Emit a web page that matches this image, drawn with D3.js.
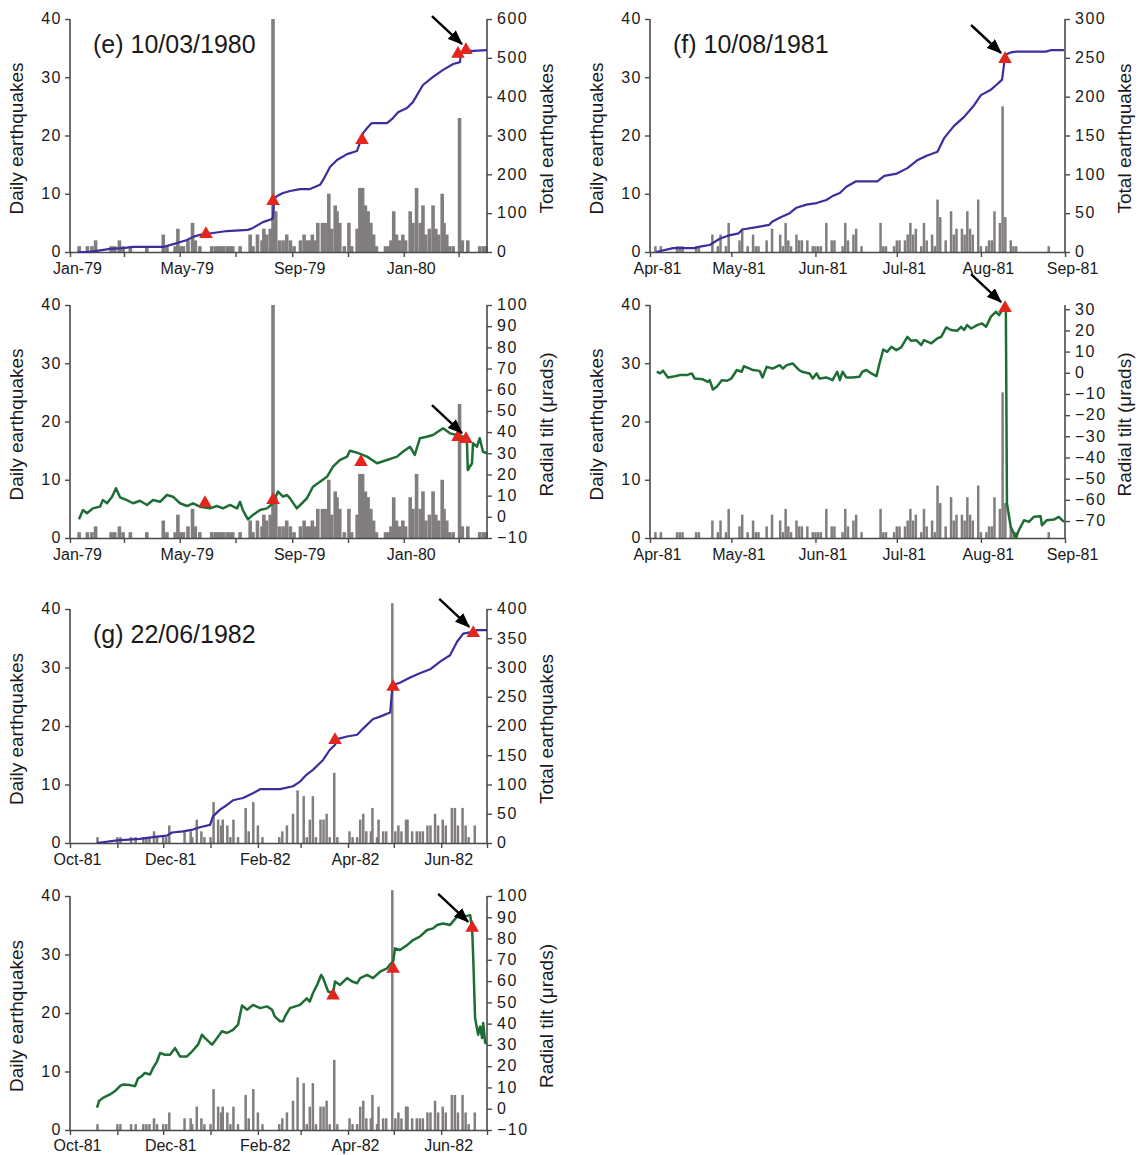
<!DOCTYPE html>
<html>
<head>
<meta charset="utf-8">
<script src="https://cdn.jsdelivr.net/npm/d3@7"></script>
<style>
    body { margin: 0; background: #ffffff; }
    svg { font-family: "Liberation Sans", Arial, Helvetica, sans-serif; }
</style>
</head>
<body>
<svg id="chart" width="1144" height="1155"></svg>
<script>
// ---- data (x = days after the panel start date) ----
const eStart = "1979-01-01", eEnd = "1980-04-01";
const fStart = "1981-04-01", fEnd = "1981-09-01";
const gStart = "1981-10-01", gEnd = "1982-07-01";

const dailyTicks = [0, 10, 20, 30, 40];
const eTotalTicks = [0, 100, 200, 300, 400, 500, 600];
const fTotalTicks = [0, 50, 100, 150, 200, 250, 300];
const gTotalTicks = [0, 50, 100, 150, 200, 250, 300, 350, 400];
const eTiltTicks = [-10, 0, 10, 20, 30, 40, 50, 60, 70, 80, 90, 100];
const fTiltTicks = [-70, -60, -50, -40, -30, -20, -10, 0, 10, 20, 30];
const gTiltTicks = [-10, 0, 10, 20, 30, 40, 50, 60, 70, 80, 90, 100];

// daily earthquake counts [day, count]
const eDaily = [[10,1],[19,1],[24,1],[28,2],[45,1],[49,1],[54,2],[58,1],[66,1],[84,1],[102,3],[106,1],[115,1],[118,4],[121,1],[124,1],[129,2],[134,5],[137,2],[142,1],[155,1],[159,1],[162,1],[165,1],[168,1],[172,1],[175,1],[178,1],[186,1],[197,3],[200,1],[205,3],[210,2],[212,4],[215,3],[219,4],[222,40],[225,7],[229,2],[233,2],[237,3],[241,2],[245,1],[252,2],[256,3],[259,2],[262,2],[265,3],[268,2],[271,5],[276,5],[279,5],[283,10],[286,4],[290,8],[292,7],[295,5],[300,1],[305,5],[308,1],[314,4],[317,11],[320,11],[323,8],[326,7],[329,5],[332,3],[335,1],[345,1],[348,1],[351,2],[354,7],[357,3],[360,2],[364,3],[367,2],[372,7],[375,5],[379,11],[383,5],[386,8],[389,3],[393,4],[397,8],[400,4],[403,3],[407,10],[409,5],[412,3],[415,1],[419,1],[426,23],[429,2],[435,2],[448,1],[452,1],[455,1]];
const fDaily = [[2,1],[4,1],[10,1],[11,1],[12,1],[17,1],[18,1],[23,3],[25,1],[26,3],[28,1],[29,5],[33,2],[34,4],[36,1],[38,3],[39,1],[40,1],[43,2],[45,4],[48,3],[49,1],[50,5],[51,2],[52,1],[54,3],[55,2],[56,2],[58,2],[60,1],[61,1],[62,1],[63,1],[65,5],[67,2],[68,2],[71,1],[72,5],[73,2],[75,3],[76,4],[78,1],[85,5],[86,1],[87,1],[90,1],[91,2],[92,2],[94,2],[95,3],[96,5],[97,3],[98,4],[100,1],[101,5],[102,2],[104,3],[105,1],[106,9],[107,6],[109,2],[111,7],[112,3],[113,4],[115,4],[116,3],[117,7],[118,4],[119,3],[121,9],[122,1],[124,1],[125,2],[126,2],[127,7],[129,5],[130,25],[131,6],[133,2],[134,1],[135,1],[147,1]];
const gDaily = [[18,1],[31,1],[33,1],[40,1],[43,1],[48,1],[50,1],[52,1],[55,2],[57,1],[61,1],[63,1],[65,3],[75,2],[79,2],[80,1],[83,4],[86,2],[88,1],[92,1],[94,7],[97,4],[99,3],[100,4],[103,3],[105,1],[107,4],[110,1],[115,6],[117,2],[120,7],[123,3],[126,1],[137,1],[139,2],[142,3],[146,5],[149,9],[153,8],[155,1],[157,4],[159,8],[161,1],[164,4],[166,4],[168,5],[170,1],[173,12],[175,1],[183,2],[185,1],[188,1],[190,4],[192,5],[194,2],[197,2],[198,6],[201,1],[202,4],[205,2],[207,2],[211,41],[213,2],[215,3],[217,2],[220,4],[221,4],[224,2],[227,2],[229,2],[231,2],[234,3],[236,3],[239,5],[241,3],[244,4],[246,3],[250,6],[252,6],[254,3],[257,6],[259,3],[261,1],[265,3]];

// cumulative earthquakes [day, total]
const eTotal = [[8.7,0],[18.6,0],[29.5,3],[43.7,8],[58,10],[69,13],[101.7,13],[117,23],[128,31],[134.5,39],[142,44],[156.4,49],[171.7,54],[194.6,57],[200,62],[211,77],[221,85],[222,90],[223,136],[226.4,144],[233,152],[240.6,157],[251.5,162],[262.4,162],[273.4,173],[276.7,185],[284.3,219],[292,237],[303,252],[313.8,260],[317,281],[320.4,306],[325.9,322],[330,332],[346.6,332],[352,342],[358.7,360],[368.5,371],[375,386],[382.7,417],[386,430],[397,451],[408,469],[419,484],[426.5,489],[427.5,512],[434,518],[441,518],[456,520]];
const fTotal = [[2.2,0],[8.5,5],[16.5,5],[18.4,7],[22,9],[25.7,17],[28.7,21],[32.7,24],[34,29],[39.3,32],[44,35],[45,39],[47.8,44],[51.5,50],[54,57],[57.7,61],[61.4,63],[65,67],[67.3,72],[70,76],[72.4,84],[76,91],[83.8,91],[86.4,98],[91,101],[94.9,108],[98.5,118],[102,124],[106,129],[108.5,147],[112,162],[115.8,174],[119.5,189],[122,202],[125.7,209],[128,216],[129.8,222],[131,254],[133,257],[135,258],[146,258],[148,260],[152.6,260]];
const gTotal = [[17.7,0],[30.8,4.5],[45.8,7],[57,11],[63.5,12.5],[66.8,18],[74,20],[80.5,23],[85,27],[91.7,31],[93.6,45.5],[98.2,57],[102.8,65],[106.7,73],[113.3,77],[119.8,85],[124.4,92],[137.5,92],[146,97],[150.6,105],[155,117],[159,125],[165.7,142],[170,159],[173.5,168],[175.5,178],[181.4,182],[188,185],[192,196],[198.4,212],[203,216],[209.6,223],[210.9,262],[211.5,270],[216,274],[222.7,283],[229,290],[235.8,297],[242.3,310],[248.8,321],[253.4,344],[257.4,358],[263.9,361],[266.5,364],[273,364]];

// radial tilt, microradians [day, tilt]
const eTilt = [[9.8,-1.2],[14.2,3.2],[18.6,1.7],[25,4],[32.8,4.8],[36,7.9],[40.5,6.4],[46,9.5],[50.3,13.5],[54.7,9.2],[62.3,7.9],[69,6.4],[76.5,7.6],[84.2,5.6],[90.8,7.9],[98.4,7.1],[106,10.3],[112.6,9.5],[120.3,6.4],[128,5.1],[134.5,6.4],[142,4.8],[153,4],[160.7,5.1],[167.3,4],[175,5.6],[182.6,4],[186,7.1],[189,3.2],[194.6,-1.2],[200,0.9],[207.8,3.2],[215.4,4],[222,6.4],[227.4,11.9],[233,9.5],[237.3,10.3],[240.6,8.7],[248,4],[253.7,6.4],[259,8.7],[265.7,14.2],[273.4,16.6],[281,18.9],[287.6,23.7],[295,26.8],[303,28.4],[306,31.2],[313.8,30.3],[324.8,28.4],[335.7,25.3],[346.6,26.8],[357.6,28.4],[364,30.7],[371.8,33.1],[377,29.2],[382.7,37.1],[390,37.8],[397,38.6],[408,41.8],[415.5,39.4],[423,38.6],[429.7,37.8],[434,36.3],[435,22.1],[439.6,25.3],[440.7,34.7],[445,33.1],[448,37.1],[451.6,30.7],[456,30]];
const fTilt = [[2.5,0.5],[3.7,-0.3],[4.8,1],[6.6,-2.2],[9.2,-1.6],[11,-1.1],[13.6,-1.1],[15.4,-0.3],[16.5,-2.7],[19.5,-3.1],[21.3,-4.3],[22,-3.5],[23.2,-7.9],[24.6,-6.6],[26.5,-3.5],[28.3,-3.8],[30,-2.7],[32,1.3],[33.8,0.5],[34.6,3.1],[36.8,2],[37.9,1.3],[40.4,0.9],[41.5,-2.2],[43,2.8],[45.2,2],[47.8,3.6],[49,2],[50.4,3.6],[52.6,4.4],[55,1.3],[56,0.5],[58.8,-0.3],[60,-2.7],[61.4,-0.3],[62.5,-2.7],[65,-2.2],[67.3,-3.5],[69,0.5],[70,-3.5],[71,0.5],[72.4,-2.2],[74.6,-2.2],[77.2,-1.9],[78.3,0.5],[79.8,1.3],[81.6,-0.3],[83.5,-1.6],[84.6,4.4],[86,11],[87.5,9.9],[89,12.3],[90.8,10.7],[92.6,12],[94.9,17],[96.3,15.1],[98.2,15.4],[100,13.1],[101,15.4],[103.7,13.9],[105.9,16.2],[107.4,17],[109.2,21.4],[111,20.2],[113.2,19.8],[114.7,21.7],[115.8,20.2],[116.9,22.5],[118.4,20.9],[120.6,22.5],[122.4,23.3],[123.9,21.7],[125.7,26.5],[127.6,28.8],[128.7,27.2],[129.8,29.6],[131.2,29.3],[131.6,-61.7],[133,-72.8],[134.2,-75.9],[134.9,-78],[136,-74.3],[137.9,-69.6],[139.7,-70.4],[141.5,-68],[144,-67.7],[144.5,-72],[146.3,-69.6],[148.9,-69.3],[150.7,-68],[152.6,-70.4]];
const gTilt = [[17.7,0.5],[19,3.6],[21.6,5.1],[26.2,6.7],[29.5,8.3],[32.7,10.6],[34.7,11.4],[39.3,11.1],[42.6,10.6],[44.5,14.2],[47,15.3],[49,16.8],[52.4,16.1],[54.4,19.2],[57,22.3],[59,26.2],[62.2,25.4],[65.5,25.4],[68.8,28.5],[72,24.6],[76.6,24.6],[80,27],[83.8,30.1],[86.4,34.8],[88.4,33.2],[93,30.1],[96.3,33.2],[99.5,36.4],[102.8,35.6],[106.7,37.1],[110,39.5],[112.6,48.5],[116,46.5],[119.8,48.8],[124.4,47.3],[129,48.1],[132.3,46.5],[134,43.4],[137.5,41.1],[139.5,41.1],[140.8,43.4],[144,47.3],[150.6,48.8],[155,51.9],[157,50.4],[159,54.3],[161.8,58.2],[164.4,62.9],[165.7,61.4],[169,55.1],[172.2,54.3],[173.5,59.8],[176.8,58.2],[181.4,61.4],[184.7,59.8],[188,59],[190,61.4],[194.5,62.9],[198.4,61.4],[203,64.4],[207.6,66],[209.6,67.9],[211.5,69],[212.8,75.4],[216,74.6],[220.7,76.9],[224.6,79.3],[229,80.9],[233.8,84],[237.7,84.8],[240.3,86.4],[244.3,87.1],[248.8,86.4],[253.4,90.3],[257.4,90.3],[262,91],[263.3,84],[264,70.7],[265.2,42.6],[267.2,34.8],[268.5,38.7],[269.8,33.2],[270.5,40.3],[271.8,30.9],[273,30.9]];

// red triangle markers [day, value]; the last one is the dated event
const eTotalMarks = [[148.7,46],[222,131],[319.3,288],[424.3,510],[433,520]];
const eTiltMarks = [[147.6,6.5],[222,7.9],[318.2,25.9],[424.3,37.7],[433,36.7]];
const fTotalMarks = [[130.9,248.5]];
const fTiltMarks = [[130.9,30.5]];
const gTotalMarks = [[173.5,176],[211.5,267],[264,359]];
const gTiltMarks = [[172.2,53.2],[211.5,65.8],[263.3,85]];

const BAR = "#827e7e", BLUE = "#3b2e9f", GREEN = "#1d6d34", RED = "#e2261d", AXIS = "#4a4a4a", INK = "#1a1a1a";

const svg = d3.select("#chart");
const parse = d3.utcParse("%Y-%m-%d");
const fmt = d3.utcFormat("%b-%y");

svg.append("defs").append("marker")
    .attr("id", "head")
    .attr("markerUnits", "userSpaceOnUse")
    .attr("viewBox", "0 0 15 12")
    .attr("refX", 14).attr("refY", 6)
    .attr("markerWidth", 15).attr("markerHeight", 12)
    .attr("orient", "auto")
    .append("path").attr("d", "M0,0 L15,6 L0,12 Z").attr("fill", "#000");

const drawPanel = function (p) {
    let start = parse(p.start), end = parse(p.end);
    let day = d => new Date(start.getTime() + d * 864e5);
    let x = d3.scaleUtc().domain([start, end]).range([p.x0, p.x1]);
    let yL = d3.scaleLinear().domain([0, 40]).range([p.y1, p.y0]);
    let yR = d3.scaleLinear().domain(p.rDomain).range([p.y1, p.y0]);

    let g = svg.append("g");

    // daily bars
    g.append("g").selectAll("rect").data(p.bars).join("rect")
        .attr("x", d => x(day(d[0])) - p.barW / 2)
        .attr("y", d => yL(d[1]))
        .attr("width", p.barW)
        .attr("height", d => yL(0) - yL(d[1]))
        .attr("fill", BAR);

    // axes
    let ticks = d3.utcMonth.every(p.tickStep).range(start, d3.utcDay.offset(end, 1));
    let xAxis = d3.axisBottom(x).tickValues(ticks).tickSize(5).tickSizeOuter(0)
        .tickFormat(d => (d3.utcMonth.count(start, d) % p.labelStep === 0) ? fmt(d) : "");
    let ax = g.append("g").attr("transform", `translate(0,${p.y1})`).call(xAxis);

    let ay = g.append("g").attr("transform", `translate(${p.x0},0)`)
        .call(d3.axisLeft(yL).tickValues(dailyTicks).tickSize(5).tickSizeOuter(0).tickPadding(3));
    let ar = g.append("g").attr("transform", `translate(${p.x1},0)`)
        .call(d3.axisRight(yR).tickValues(p.rTicks).tickSize(5).tickSizeOuter(0).tickPadding(5));

    [ax, ay, ar].forEach(a => {
        a.select(".domain").attr("stroke", AXIS).attr("stroke-width", 1.6);
        a.selectAll(".tick line").attr("stroke", AXIS).attr("stroke-width", 1.4);
        a.selectAll("text").attr("fill", INK).style("font-size", "16px");
    });
    ax.selectAll("text").attr("dx", 7).attr("y", p.labelGap || 22).attr("dy", "0");
    ay.selectAll("text").attr("dy", "0.3em").style("letter-spacing", "1.5px");
    ar.selectAll("text").attr("dy", "0.3em").style("letter-spacing", "1.5px");
    ay.select(".domain").attr("d", `M0,${p.y0}V${p.y1}`);
    ar.select(".domain").attr("d", `M0,${p.y0}V${p.y1}`);

    // line series
    let line = d3.line().x(d => x(day(d[0]))).y(d => yR(d[1]));
    g.append("path").datum(p.series)
        .attr("d", line)
        .attr("fill", "none")
        .attr("stroke", p.color)
        .attr("stroke-width", p.lineW)
        .attr("stroke-linejoin", "round");

    // markers
    let tri = d3.symbol().type(d3.symbolTriangle).size(80);
    g.append("g").selectAll("path").data(p.marks).join("path")
        .attr("d", tri)
        .attr("transform", d => `translate(${x(day(d[0]))},${yR(d[1])})`)
        .attr("fill", RED);

    // arrow to the dated event
    let ev = p.marks[p.marks.length - 1];
    let tx = x(day(ev[0])) - 4, ty = yR(ev[1]) - 6;
    g.append("line")
        .attr("x1", tx - 30).attr("y1", ty - 28)
        .attr("x2", tx).attr("y2", ty)
        .attr("stroke", "#000").attr("stroke-width", 2.4)
        .attr("marker-end", "url(#head)");

    // axis titles
    let cy = (p.y0 + p.y1) / 2 + 3;
    g.append("text")
        .attr("transform", `translate(${p.x0 - 47},${cy}) rotate(-90)`)
        .attr("text-anchor", "middle")
        .style("font-size", "19px").attr("fill", INK)
        .text("Daily earthquakes");
    g.append("text")
        .attr("transform", `translate(${p.x1 + 66},${cy}) rotate(-90)`)
        .attr("text-anchor", "middle")
        .style("font-size", "19px").attr("fill", INK)
        .text(p.rTitle);

    if (p.title) {
        g.append("text")
            .attr("x", p.x0 + 23).attr("y", p.y0 + 34)
            .style("font-size", "25px").attr("fill", INK)
            .text(p.title);
    }
};

drawPanel({x0: 70, x1: 487, y0: 19, y1: 252, start: eStart, end: eEnd, tickStep: 2, labelStep: 4,
    bars: eDaily, barW: 3.6, series: eTotal, marks: eTotalMarks, color: BLUE, lineW: 2.2,
    rDomain: [0, 600], rTicks: eTotalTicks, rTitle: "Total earthquakes", title: "(e) 10/03/1980"});
drawPanel({x0: 70, x1: 487, y0: 305, y1: 538, start: eStart, end: eEnd, tickStep: 2, labelStep: 4,
    bars: eDaily, barW: 3.6, series: eTilt, marks: eTiltMarks, color: GREEN, lineW: 2.5,
    rDomain: [-10, 100], rTicks: eTiltTicks, rTitle: "Radial tilt (\u03bcrads)"});
drawPanel({x0: 650, x1: 1065, y0: 19, y1: 252, start: fStart, end: fEnd, tickStep: 1, labelStep: 1,
    bars: fDaily, barW: 2.5, series: fTotal, marks: fTotalMarks, color: BLUE, lineW: 2.2,
    rDomain: [0, 300], rTicks: fTotalTicks, rTitle: "Total earthquakes", title: "(f) 10/08/1981"});
drawPanel({x0: 650, x1: 1065, y0: 305, y1: 538, start: fStart, end: fEnd, tickStep: 1, labelStep: 1,
    bars: fDaily, barW: 2.5, series: fTilt, marks: fTiltMarks, color: GREEN, lineW: 2.5,
    rDomain: [-78, 32], rTicks: fTiltTicks, rTitle: "Radial tilt (\u03bcrads)"});
drawPanel({x0: 70, x1: 487, y0: 609, y1: 843, start: gStart, end: gEnd, tickStep: 1, labelStep: 2,
    bars: gDaily, barW: 2.5, series: gTotal, marks: gTotalMarks, color: BLUE, lineW: 2.2,
    rDomain: [0, 400], rTicks: gTotalTicks, rTitle: "Total earthquakes", title: "(g) 22/06/1982"});
drawPanel({x0: 70, x1: 487, y0: 896, y1: 1130, start: gStart, end: gEnd, tickStep: 1, labelStep: 2, labelGap: 21,
    bars: gDaily, barW: 2.5, series: gTilt, marks: gTiltMarks, color: GREEN, lineW: 2.5,
    rDomain: [-10, 100], rTicks: gTiltTicks, rTitle: "Radial tilt (\u03bcrads)"});
</script>
</body>
</html>
